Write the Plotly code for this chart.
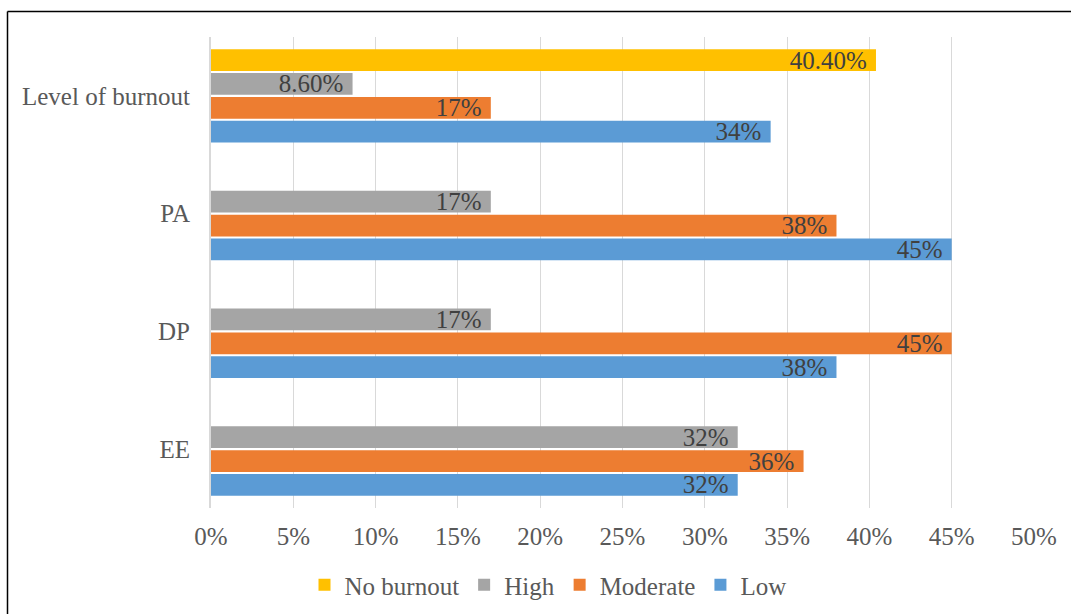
import plotly.graph_objects as go

categories = ["EE", "DP", "PA", "Level of burnout"]
series_names = ["Low", "Moderate", "High", "No burnout"]
low_vals = [32, 38, 45, 34]
moderate_vals = [36, 45, 38, 17]
high_vals = [32, 17, 17, 8.6]
no_burnout_vals = [None, None, None, 40.4]
low_labels = ["32%", "38%", "45%", "34%"]
moderate_labels = ["36%", "45%", "38%", "17%"]
high_labels = ["32%", "17%", "17%", "8.60%"]
no_burnout_labels = ["", "", "", "40.40%"]
x_ticks = [0, 5, 10, 15, 20, 25, 30, 35, 40, 45, 50]
x_tick_labels = ["0%", "5%", "10%", "15%", "20%", "25%", "30%", "35%", "40%", "45%", "50%"]

colors = {"Low": "#5B9BD5", "Moderate": "#ED7D31", "High": "#A5A5A5", "No burnout": "#FFC000"}
values = {"Low": low_vals, "Moderate": moderate_vals, "High": high_vals, "No burnout": no_burnout_vals}
labels = {"Low": low_labels, "Moderate": moderate_labels, "High": high_labels, "No burnout": no_burnout_labels}

FONT = "Liberation Serif"

fig = go.Figure()
for name in series_names:
    fig.add_trace(go.Bar(
        name=name, y=categories, x=values[name], orientation="h",
        marker=dict(color=colors[name], line=dict(width=0)),
        text=labels[name], texttemplate="%{text}\u00a0", textposition="inside",
        insidetextanchor="end", textangle=0, constraintext="none",
        textfont=dict(family=FONT, size=25, color="#404040"),
        hoverinfo="x+y",
    ))

W, H = 1071, 614
L, R, T, B = 211, 37, 37, 106
pw, ph = W - L - R, H - T - B
bx = (7.5 - L) / pw
by = 1 + (T - 11.5) / ph

fig.update_layout(
    width=W, height=H,
    margin=dict(l=L, r=R, t=T, b=B, pad=0, autoexpand=False),
    barmode="group", bargap=0.19, bargroupgap=0.09,
    plot_bgcolor="white", paper_bgcolor="white",
    font=dict(family=FONT, size=25, color="#595959"),
    legend=dict(orientation="h", traceorder="reversed",
                xref="container", x=548 / W, xanchor="center",
                yref="container", y=(H - 585) / H, yanchor="middle",
                font=dict(family=FONT, size=25, color="#595959"),
                itemwidth=30, bgcolor="rgba(0,0,0,0)"),
    xaxis=dict(range=[0, 50], tickmode="array", tickvals=x_ticks, ticktext=x_tick_labels,
               showgrid=True, gridcolor="#D9D9D9", gridwidth=1, zeroline=False, showline=False,
               ticks="", ticklabelstandoff=11, fixedrange=True, automargin=False),
    yaxis=dict(categoryorder="array", categoryarray=categories, showgrid=False,
               showline=True, linecolor="#D9D9D9", linewidth=2, ticks="",
               ticklabelstandoff=14, fixedrange=True, automargin=False),
    shapes=[
        dict(type="line", xref="paper", yref="paper", x0=bx, x1=bx, y0=-1, y1=by,
             line=dict(color="black", width=1.5)),
        dict(type="line", xref="paper", yref="paper", x0=bx, x1=1.2, y0=by, y1=by,
             line=dict(color="black", width=1.5)),
    ],
)

fig.write_html("out.html")
